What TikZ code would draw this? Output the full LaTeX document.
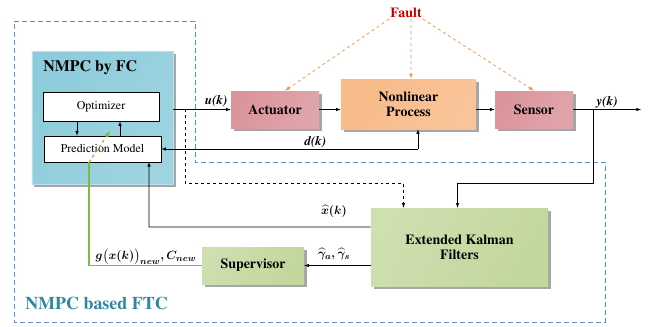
\documentclass[tikz,border=0pt]{standalone}
\usepackage{amsmath, amssymb}
\usepackage[T1]{fontenc}
\renewcommand{\rmdefault}{ptm}
\usetikzlibrary{arrows,positioning,shadows,fit,shapes}

\definecolor{ftcblue}{HTML}{5B8FD1}
\definecolor{ftcteal}{HTML}{2E86A0}
\definecolor{faultred}{HTML}{C00000}
\definecolor{faultorange}{HTML}{F39A4C}
\definecolor{supgreen}{HTML}{7DBA3F}
\definecolor{redA}{HTML}{DA959B}
\definecolor{redB}{HTML}{F7E6E7}
\definecolor{orA}{HTML}{F8BA88}
\definecolor{orB}{HTML}{FDEDE0}
\definecolor{grA}{HTML}{C2D79C}
\definecolor{grB}{HTML}{F0F5E6}
\definecolor{cyA}{HTML}{8DCCDB}
\definecolor{cyB}{HTML}{E6F3F7}

\begin{document}
\begin{tikzpicture}
[x=1bp, y=-1bp, >=latex, semithick,
every node/.style={inner sep=1pt},
block/.style={minimum height=37bp, align=center,
  font=\bfseries\fontsize{14}{15}\selectfont,
  drop shadow={shadow xshift=2.5bp, shadow yshift=-2.5bp, fill=black!35, opacity=1}},
redblock/.style={block, left color=redA, middle color=redB, right color=redA!85!white, shading angle=60},
orangeblock/.style={block, left color=orA, middle color=orB, right color=orA!85!white, shading angle=60},
greenblock/.style={block, left color=grA!80!white, middle color=grB, right color=grA, shading angle=60},
inner/.style={draw, fill=white, font=\fontsize{12}{13}\selectfont},
sig/.style={font=\bfseries\itshape\fontsize{13}{14}\selectfont},
mathsig/.style={font=\fontsize{13}{14}\selectfont},
fault/.style={->, dashed, draw=faultorange, thick},
ftc/.style={dashed, draw=ftcblue, thick, dash pattern=on 5bp off 3bp}
]
  \useasboundingbox (0,0) rectangle (650,326);

  % outer FTC frame
  \draw[ftc] (14,21) -- (195,21) -- (195,162) -- (605,162) -- (605,322) -- (14,322) -- cycle;
  \node[anchor=west, text=ftcteal, font=\bfseries\fontsize{18}{19}\selectfont] (ftclbl) at (24,303) {NMPC based FTC};

  % controller
  \node[block, minimum width=141bp, minimum height=133bp, draw=cyA!60!white,
        left color=cyA, middle color=cyB, right color=cyA!85!white, shading angle=60] (fc) at (102.5,117.5) {};
  \node[anchor=west, font=\bfseries\fontsize{16}{17}\selectfont] (fclbl) at (42,68) {NMPC by FC};
  \node[inner, minimum width=116bp, minimum height=29bp] (opt) at (101,106.5) {Optimizer};
  \node[inner, minimum width=117bp, minimum height=26bp] (pm) at (102.5,149) {Prediction Model};

  % plant
  \node[redblock, minimum width=88bp] (act) at (275,109.5) {Actuator};
  \node[orangeblock, minimum width=135bp, minimum height=50bp] (proc) at (408.5,104) {Nonlinear\\Process};
  \node[redblock, minimum width=78bp] (sens) at (534,109.5) {Sensor};
  \node[text=faultred, font=\bfseries\fontsize{14}{15}\selectfont] (fault) at (406,13) {Fault};

  % estimation and supervision
  \node[greenblock, minimum width=177bp, minimum height=78bp] (ekf) at (459.5,247) {Extended Kalman\\Filters};
  \node[greenblock, minimum width=102bp] (sup) at (253,265.5) {Supervisor};

  \coordinate (tap1) at (185,109.5);
  \coordinate (tap2) at (593,109.5);
  \coordinate (out) at (641,109.5);
  \coordinate (dk) at (418,149);
  \coordinate (gk) at (89,149);

  \draw[->] ([xshift=-24bp]opt.south) -- ([xshift=-24bp]opt.south |- pm.north);
  \draw[<-] ([xshift=19bp]opt.south) -- ([xshift=19bp]opt.south |- pm.north);

  \draw[->] (fc.east |- act.west) -- (act.west) node[sig, above left=1bp and 2bp] {u(k)};
  \draw[->] (act.east) -- (act.east -| proc.west);
  \draw[->] (proc.east |- sens.west) -- (sens.west);
  \draw[->] (sens.east) -- (out) node[sig, pos=0.5, above] {y(k)};
  \draw[<-] (pm.east) -- (dk) node[sig, pos=0.6, above] {d(k)};
  \draw[->] (dk) -- (dk |- proc.south);

  \draw[fault] (fault.south west) -- ([xshift=10bp]act.north);
  \draw[fault] ([xshift=5bp]fault.south) -- ([xshift=2.5bp]proc.north);
  \draw[fault] (fault.south east) -- (sens.north);

  \draw[->, dashed] (tap1) -- (185,183) -| ([xshift=-56bp]ekf.north);
  \draw[->] (tap2) -- (593,183) -| ([xshift=-2bp]ekf.north);

  \draw[->] ([yshift=20bp]ekf.west) -- (149,227) -- (149,162);
  \node[mathsig] (xlbl) at (334,211) {$\boldsymbol{\widehat{x}(k)}$};
  \draw[->] (ekf.west |- sup.east) -- (sup.east);
  \node[mathsig] (glbl) at (334,254) {$\boldsymbol{\widehat{\gamma}_a,\widehat{\gamma}_s}$};
  \draw[supgreen, line width=1.1bp] (sup.west) -| (gk |- pm.south);
  \node[mathsig, anchor=south] (clbl) at (146,266) {$\boldsymbol{g\big(x(k)\big)_{new},C_{new}}$};
  \draw[->, dashed, supgreen, line width=1.1bp] (gk |- pm.south) -- (110,131);
\end{tikzpicture}
\end{document}
